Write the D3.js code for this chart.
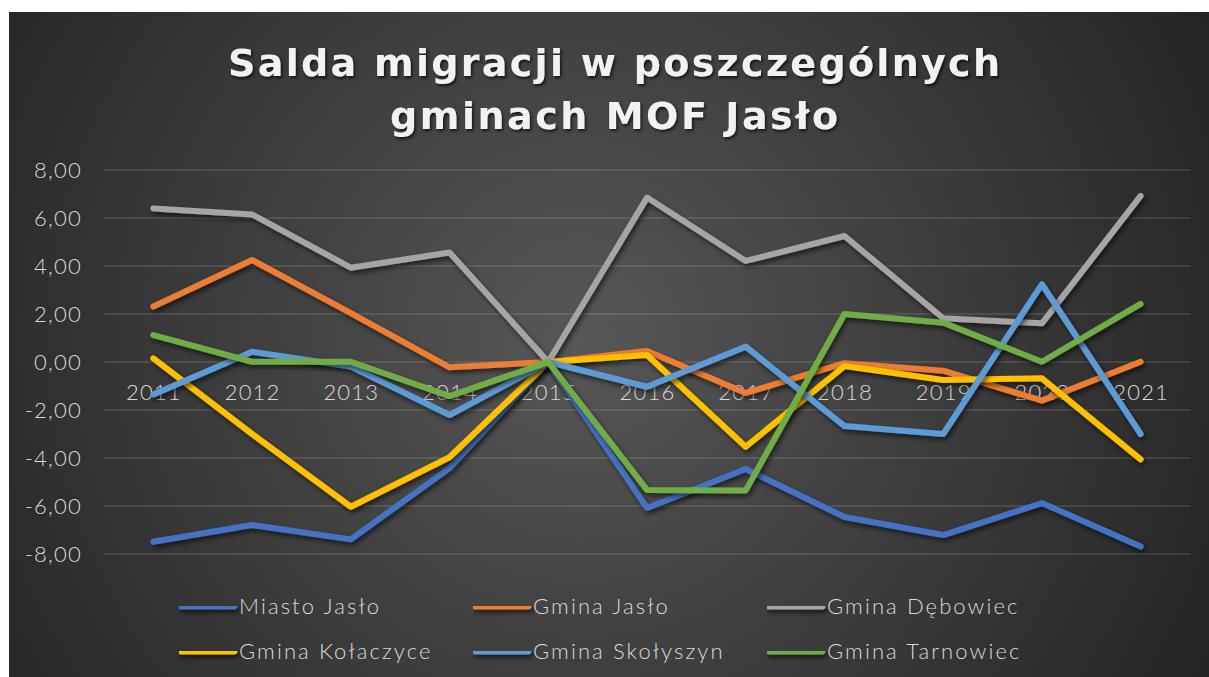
<!DOCTYPE html>
<html>
<head>
<meta charset="utf-8">
<script src="https://cdn.jsdelivr.net/npm/d3@7"></script>
<style>
  html, body { margin: 0; padding: 0; background: #fff; }
  svg { display: block; }
</style>
</head>
<body>
<svg id="chart"></svg>
<script>
// Data
const years = ["2011", "2012", "2013", "2014", "2015", "2016", "2017", "2018", "2019", "2020", "2021"];
const yTicks = [-8, -6, -4, -2, 0, 2, 4, 6, 8];

const miastoJaslo    = [-7.49, -6.79, -7.39, -4.42, 0, -6.08, -4.46, -6.46, -7.21, -5.88, -7.69];
const gminaJaslo     = [2.31, 4.25, 2.04, -0.22, 0, 0.46, -1.29, -0.05, -0.36, -1.61, 0.01];
const gminaDebowiec  = [6.40, 6.15, 3.93, 4.56, 0, 6.85, 4.21, 5.25, 1.82, 1.61, 6.92];
const gminaKolaczyce = [0.15, -3.00, -6.03, -3.97, 0, 0.29, -3.53, -0.17, -0.75, -0.68, -4.06];
const gminaSkolyszyn = [-1.35, 0.43, -0.19, -2.21, 0, -1.03, 0.64, -2.67, -3.00, 3.24, -3.00];
const gminaTarnowiec = [1.12, 0.01, 0.01, -1.42, 0, -5.33, -5.35, 2.00, 1.64, 0.01, 2.42];

const seriesNames  = ["Miasto Jasło", "Gmina Jasło", "Gmina Dębowiec", "Gmina Kołaczyce", "Gmina Skołyszyn", "Gmina Tarnowiec"];
const seriesValues = [miastoJaslo, gminaJaslo, gminaDebowiec, gminaKolaczyce, gminaSkolyszyn, gminaTarnowiec];
const seriesColors = ["#4472C4", "#ED7D31", "#A5A5A5", "#FFC000", "#5B9BD5", "#70AD47"];

const width = 1209, height = 677;
const svg = d3.select("#chart").attr("width", width).attr("height", height);

const defs = svg.append("defs");

// background gradient, lighter in the middle
const grad = defs.append("radialGradient")
  .attr("id", "bg")
  .attr("gradientUnits", "userSpaceOnUse")
  .attr("cx", 580).attr("cy", 340).attr("r", 720);
grad.append("stop").attr("offset", "0%").attr("stop-color", "#575757");
grad.append("stop").attr("offset", "100%").attr("stop-color", "#232323");

// shadow filter in user space so flat legend lines still render
const shadow = defs.append("filter").attr("id", "shadow")
  .attr("filterUnits", "userSpaceOnUse")
  .attr("x", 0).attr("y", 0).attr("width", width).attr("height", height);
shadow.append("feDropShadow")
  .attr("dx", 2).attr("dy", 3).attr("stdDeviation", 2.5)
  .attr("flood-color", "#000").attr("flood-opacity", 0.6);

const textShadow = defs.append("filter").attr("id", "tshadow");
textShadow.append("feDropShadow")
  .attr("dx", 1.5).attr("dy", 2).attr("stdDeviation", 1.5)
  .attr("flood-color", "#000").attr("flood-opacity", 0.7);

svg.append("rect")
  .attr("x", 9).attr("y", 12)
  .attr("width", width - 9).attr("height", height - 12)
  .attr("fill", "url(#bg)");

// title
const title = svg.append("text")
  .attr("text-anchor", "middle")
  .attr("fill", "#f2f2f2")
  .attr("font-family", "'Century Gothic', 'DejaVu Sans', sans-serif")
  .attr("font-weight", "bold")
  .attr("font-size", 38)
  .attr("filter", "url(#tshadow)");
title.append("tspan").attr("x", 614).attr("y", 76)
  .attr("textLength", 772).attr("lengthAdjust", "spacing")
  .text("Salda migracji w poszczególnych");
title.append("tspan").attr("x", 614).attr("y", 129)
  .attr("textLength", 448).attr("lengthAdjust", "spacing")
  .text("gminach MOF Jasło");

// scales
const x = d3.scalePoint().domain(years).range([104, 1190]).padding(0.5);
const y = d3.scaleLinear().domain([-8, 8]).range([554, 170]);

const labelFont = "'Century Gothic', Lato, 'DejaVu Sans', sans-serif";

function styleLabels(sel, spacing = 1.2) {
  sel.attr("fill", "#d9d9d9")
    .attr("font-family", labelFont)
    .attr("font-weight", 300)
    .attr("font-size", 22)
    .attr("letter-spacing", spacing);
}

// gridlines
svg.append("g")
  .selectAll("line")
  .data(yTicks)
  .join("line")
    .attr("x1", 104).attr("x2", 1190)
    .attr("y1", d => y(d)).attr("y2", d => y(d))
    .attr("stroke", "#ffffff").attr("stroke-opacity", 0.14)
    .attr("stroke-width", 1.5);

// y axis labels
const yAxis = svg.append("g")
  .attr("transform", "translate(84,0)")
  .call(d3.axisLeft(y).tickValues(yTicks).tickSize(0).tickPadding(2)
    .tickFormat(d => d3.format(".2f")(d).replace(".", ",").replace("−", "-")));
yAxis.select(".domain").remove();
yAxis.selectAll("text").call(styleLabels);

// x axis labels sit at the zero line
const xAxis = svg.append("g")
  .attr("transform", `translate(0,${y(0)})`)
  .call(d3.axisBottom(x).tickSize(0).tickPadding(22));
xAxis.select(".domain").remove();
xAxis.selectAll("text").call(styleLabels);

// lines
const line = d3.line()
  .x((d, i) => x(years[i]))
  .y(d => y(d));

svg.append("g")
  .selectAll("path")
  .data(seriesValues)
  .join("path")
    .attr("d", d => line(d))
    .attr("fill", "none")
    .attr("stroke", (d, i) => seriesColors[i])
    .attr("stroke-width", 6)
    .attr("stroke-linecap", "round")
    .attr("stroke-linejoin", "round")
    .attr("filter", "url(#shadow)");

// legend
const legendX = [179, 473, 767];
const legendY = [606, 651];
const legend = svg.append("g")
  .selectAll("g")
  .data(seriesNames)
  .join("g")
    .attr("transform", (d, i) => `translate(${legendX[i % 3]},${legendY[Math.floor(i / 3)]})`);

legend.append("line")
  .attr("x1", 2).attr("x2", 55)
  .attr("stroke", (d, i) => seriesColors[i])
  .attr("stroke-width", 7)
  .attr("stroke-linecap", "round")
  .attr("filter", "url(#shadow)");

legend.append("text")
  .attr("x", 60).attr("dy", "0.35em")
  .call(styleLabels, 2.1)
  .text(d => d);
</script>
</body>
</html>
